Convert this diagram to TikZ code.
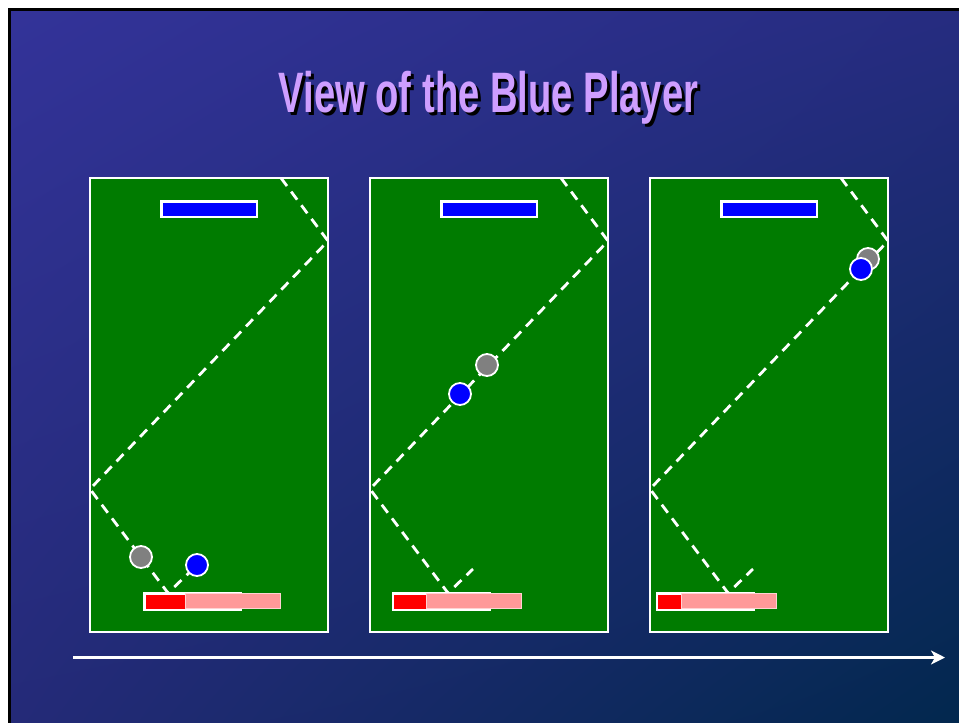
\documentclass[tikz,border=0pt]{standalone}
\usepackage{fontspec}
\setmainfont{Liberation Sans}
\usetikzlibrary{arrows.meta,shadings}
\definecolor{bgUL}{RGB}{51,51,153}
\definecolor{bgUR}{RGB}{38,44,128}
\definecolor{bgLL}{RGB}{36,42,120}
\definecolor{bgLR}{RGB}{2,40,78}
\definecolor{fieldgreen}{RGB}{0,123,0}
\definecolor{titleviolet}{RGB}{206,158,255}
\definecolor{paddleblue}{RGB}{0,0,255}
\definecolor{paddlered}{RGB}{255,0,0}
\definecolor{pinkzone}{RGB}{255,153,153}
\definecolor{pinkedge}{RGB}{255,210,210}
\definecolor{ballgray}{RGB}{128,128,128}
\newcommand{\titlestr}{\scalebox{0.67}[1]{View of the Blue Player}}
\begin{document}
\begin{tikzpicture}[x=1pt,y=-1pt,
  field/.style={rectangle,draw=white,line width=2pt,fill=fieldgreen,minimum width=238pt,minimum height=454pt,inner sep=0pt},
  toppaddle/.style={rectangle,draw=white,line width=2.5pt,fill=paddleblue,minimum width=95.5pt,minimum height=15.5pt,inner sep=0pt},
  botpaddle/.style={rectangle,draw=white,line width=2.5pt,fill=paddlered,minimum width=96.5pt,minimum height=16.5pt,inner sep=0pt},
  zone/.style={rectangle,draw=pinkedge,line width=1pt,fill=pinkzone,minimum width=95pt,minimum height=15pt,inner sep=0pt},
  ball/.style={circle,draw=white,line width=1.8pt,minimum size=22pt,inner sep=0pt},
  track/.style={draw=white,line width=2.8pt,dash pattern=on 10pt off 7pt},
  timeline/.style={draw=white,line width=3pt,-{Stealth[length=14pt,width=14pt,inset=4pt,fill=white]}},
  titletext/.style={inner sep=0pt,anchor=base,font=\bfseries\fontsize{57}{60}\selectfont}]
\useasboundingbox (0,0) rectangle (959,723);
\fill[white] (0,0) rectangle (959,723);
\fill[black] (8,8) rectangle (959,723);
\shade[upper left=bgUL,upper right=bgUR,lower left=bgLL,lower right=bgLR] (11,11) rectangle (959,723);
% title with drop shadow (one text)
\node[titletext] (title) at (488.5,112) {\makebox[0pt][l]{\kern3pt\raisebox{-3pt}{\color{black}\titlestr}}{\color{titleviolet}\titlestr}};
% panels
\foreach \i/\o/\gx/\gy/\bx/\by/\px/\zx in {1/0/141/557/197/565/192.5/233,2/280/207/365/180/394/161/193.5,3/560/308/259/301/269/145/169}{
  \node[field] (field\i) at (\o+209,405) {};
  \node[toppaddle] (top\i) at (\o+209,209) {};
  \coordinate (a\i) at (\o+281,178);
  \coordinate (b\i) at (\o+328,241);
  \coordinate (c\i) at (\o+90,489);
  \coordinate (d\i) at (\o+168,593);
  \coordinate (e\i) at (\o+193,569);
  \draw[track] (a\i) -- (b\i) -- (c\i) -- (d\i) -- (e\i);
  \node[botpaddle] (bot\i) at (\o+\px,601.5) {};
  \node[zone] (zone\i) at (\o+\zx,601) {};
  \node[ball,fill=ballgray] (gray\i) at (\o+\gx,\gy) {};
  \node[ball,fill=paddleblue] (blue\i) at (\o+\bx,\by) {};
}
% time arrow
\coordinate (tstart) at (73,657.5);
\coordinate (tend) at (945,657.5);
\draw[timeline] (tstart) -- (tend);
\end{tikzpicture}
\end{document}
